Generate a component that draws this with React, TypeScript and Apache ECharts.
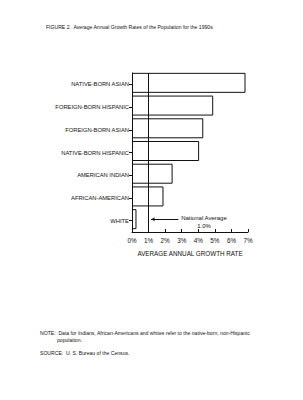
import React, { useEffect, useRef } from "react";
import * as echarts from "echarts";

const categories = [
  "NATIVE-BORN ASIAN",
  "FOREIGN-BORN HISPANIC",
  "FOREIGN-BORN ASIAN",
  "NATIVE-BORN HISPANIC",
  "AMERICAN INDIAN",
  "AFRICAN-AMERICAN",
  "WHITE",
];
const growthRates = [6.85, 4.9, 4.3, 4.05, 2.45, 1.9, 0.27];
const nationalAverage = 1.0;
const arrowFrom = 2.8;
const arrowTo = 1.15;

const FONT = "'Liberation Sans Narrow', 'Liberation Sans', Arial, sans-serif";
const INK = "#111111";

export default function App() {
  const ref = useRef<HTMLDivElement>(null);
  useEffect(() => {
    if (!ref.current) return;
    const chart = echarts.init(ref.current, null, { renderer: "svg" });
    chart.setOption({
      animation: false,
      backgroundColor: "#ffffff",
      grid: { left: 132, right: 55, top: 73, bottom: 168, containLabel: false },
      xAxis: {
        type: "value",
        min: 0,
        max: 7,
        interval: 1,
        name: "AVERAGE ANNUAL GROWTH RATE",
        nameLocation: "middle",
        nameGap: 18,
        nameTextStyle: { fontFamily: FONT, fontSize: 6.3, color: INK },
        axisLine: { show: true, lineStyle: { color: INK, width: 1 } },
        axisTick: { show: true, inside: true, length: 3, lineStyle: { color: INK } },
        axisLabel: { formatter: "{value}%", fontFamily: FONT, fontSize: 6.3, color: INK, margin: 5 },
        splitLine: { show: false },
      },
      yAxis: {
        type: "category",
        data: categories,
        inverse: true,
        axisLine: { show: true, lineStyle: { color: INK, width: 1 } },
        axisTick: { show: true, alignWithLabel: true, length: 3, lineStyle: { color: INK } },
        axisLabel: { fontFamily: FONT, fontSize: 5.8, color: INK, margin: 3 },
      },
      series: [
        {
          type: "bar",
          data: growthRates,
          barWidth: 20,
          itemStyle: { color: "rgba(255,255,255,0)", borderColor: INK, borderWidth: 1 },
          markLine: {
            silent: true,
            animation: false,
            label: { show: false },
            lineStyle: { color: INK, type: "solid", width: 1 },
            data: [
              [
                { coord: [arrowFrom, 6], symbol: "none" },
                { coord: [arrowTo, 6], symbol: "arrow", symbolSize: [3, 4] },
              ],
            ],
          },
        },
        {
          type: "bar",
          data: [],
          markLine: {
            silent: true,
            animation: false,
            symbol: "none",
            label: { show: false },
            lineStyle: { color: INK, type: "solid", width: 1 },
            data: [{ xAxis: nationalAverage }],
          },
        },
      ],
      graphic: [
        {
          type: "text",
          left: 46,
          top: 24,
          style: {
            text: "FIGURE 2.  Average Annual Growth Rates of the Population for the 1990s",
            fontFamily: FONT,
            fontSize: 5.1,
            fill: INK,
          },
        },
        {
          type: "text",
          x: 204,
          y: 214,
          style: {
            text: "National Average\n1.0%",
            fontFamily: FONT,
            fontSize: 6,
            fill: INK,
            align: "center",
            lineHeight: 8,
          },
        },
        {
          type: "text",
          left: 40,
          top: 330,
          style: {
            text: "NOTE:  Data for Indians, African-Americans and whites refer to the native-born, non-Hispanic",
            fontFamily: FONT,
            fontSize: 5.1,
            fill: INK,
          },
        },
        {
          type: "text",
          left: 57,
          top: 337,
          style: { text: "population.", fontFamily: FONT, fontSize: 5.1, fill: INK },
        },
        {
          type: "text",
          left: 40,
          top: 350,
          style: {
            text: "SOURCE:  U. S. Bureau of the Census.",
            fontFamily: FONT,
            fontSize: 5.1,
            fill: INK,
          },
        },
      ],
    });
    return () => chart.dispose();
  }, []);
  return (
    <div
      ref={ref}
      style={{ position: "fixed", left: 0, top: 0, width: 303, height: 400 }}
    />
  );
}
